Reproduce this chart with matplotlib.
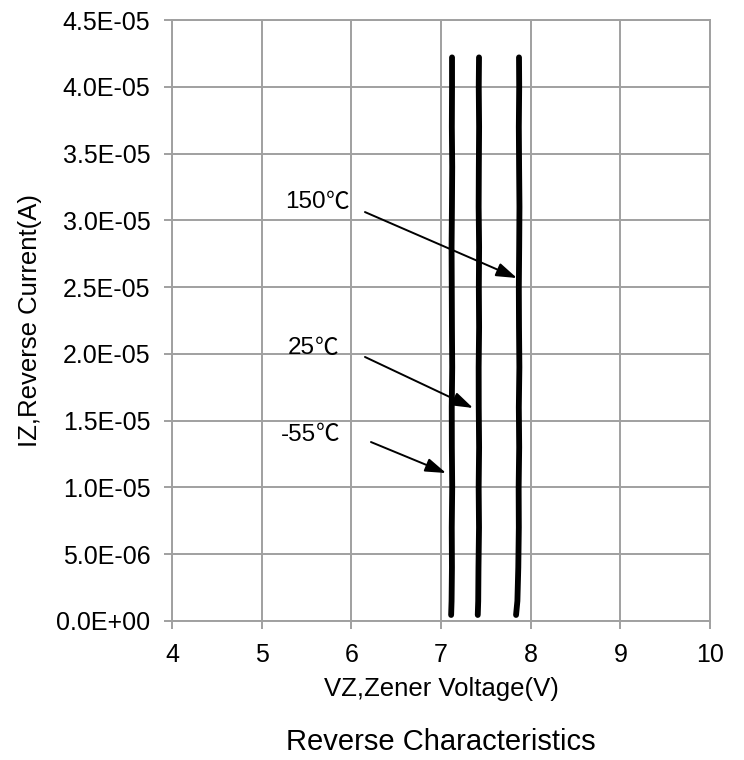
import numpy as np
import matplotlib
matplotlib.use("Agg")
import matplotlib.pyplot as plt
from matplotlib.ticker import FuncFormatter

plt.rcParams['font.family'] = ['Liberation Sans', 'DejaVu Sans']

iz = [0.45e-6, 1.5e-6, 4e-6, 7e-6, 10e-6, 13e-6, 16e-6, 19e-6, 22e-6,
      25e-6, 28e-6, 31e-6, 34e-6, 37e-6, 40e-6, 42.2e-6]
vz_m55 = [7.113, 7.118, 7.122, 7.12, 7.125, 7.121, 7.12, 7.125, 7.122,
          7.12, 7.118, 7.122, 7.125, 7.121, 7.123, 7.123]
vz_25 = [7.41, 7.415, 7.418, 7.424, 7.42, 7.425, 7.421, 7.42, 7.425,
         7.422, 7.425, 7.42, 7.422, 7.425, 7.421, 7.424]
vz_150 = [7.837, 7.852, 7.862, 7.868, 7.866, 7.872, 7.868, 7.874, 7.87,
          7.868, 7.872, 7.875, 7.871, 7.868, 7.872, 7.87]

# annotations: number, label anchor, arrow start, arrow tip
temps = ["150", "25", "-55"]
label_xy = [(5.717, 3.137e-5), (5.595, 2.044e-5), (5.606, 1.393e-5)]
start_xy = [(6.152, 3.062e-5), (6.152, 1.977e-5), (6.219, 1.340e-5)]
tip_xy = [(7.847, 2.568e-5), (7.357, 1.595e-5), (7.056, 1.108e-5)]

fig = plt.figure(figsize=(7.44, 7.6), dpi=100)
ax = fig.add_axes([172 / 744, 1 - 621 / 760, 538 / 744, 601 / 760])

for vz in (vz_m55, vz_25, vz_150):
    ax.plot(vz, iz, color='black', lw=4.2, solid_capstyle='round', zorder=3)

for t, p, s, e in zip(temps, label_xy, start_xy, tip_xy):
    ax.text(p[0], p[1], t, fontsize=17.5, ha='right', va='center')
    ax.text(p[0], p[1], "℃", fontsize=17, ha='left', va='center',
            family=['Noto Sans CJK SC'], fontweight='light')
    ax.annotate("", xy=e, xytext=s,
                arrowprops=dict(arrowstyle='-|>,head_length=0.9,head_width=0.3',
                                color='black', lw=1.4,
                                mutation_scale=14, shrinkA=0, shrinkB=0),
                zorder=4)

ax.set_xlim(4, 10)
ax.set_ylim(0, 4.5e-5)
ax.set_xticks(np.arange(4, 11, 1))
ax.set_yticks(np.arange(0, 4.51e-5, 5e-6))
ax.yaxis.set_major_formatter(FuncFormatter(lambda v, p: "%.1E" % v))
ax.grid(True, color='#a0a0a0', lw=1.4)
ax.set_axisbelow(True)
for sp in ax.spines.values():
    sp.set_color('#a0a0a0')
    sp.set_linewidth(1.4)
ax.tick_params(labelsize=18, color='#a0a0a0', width=1.4)
ax.tick_params(axis='x', direction='out', length=6, pad=10)
ax.tick_params(axis='y', direction='inout', length=11, pad=10)

ax.set_xlabel("VZ,Zener Voltage(V)", fontsize=18.5, labelpad=7)
ax.set_ylabel("IZ,Reverse Current(A)", fontsize=18.5, labelpad=10)
fig.text(0.593, 1 - 742 / 760, "Reverse Characteristics", fontsize=21,
         ha='center', va='center')

fig.savefig("out.png", dpi=100)
